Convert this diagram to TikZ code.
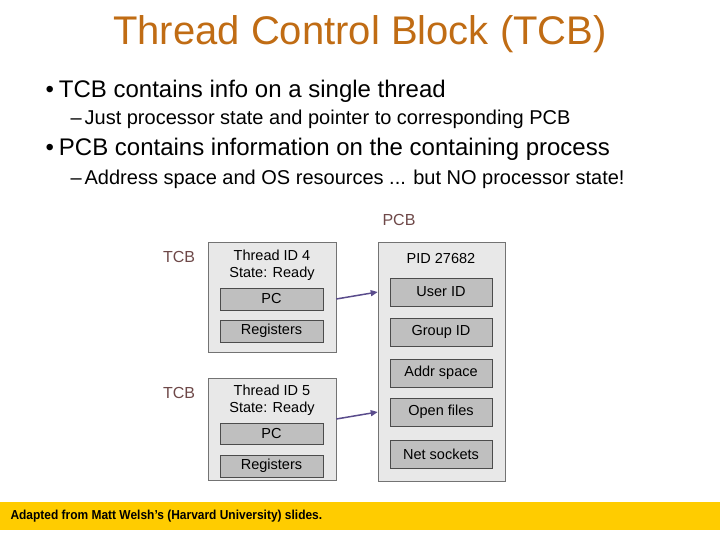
\documentclass[tikz,border=0pt]{standalone}
\usepackage{fontspec}
\setmainfont{Liberation Sans}
\usetikzlibrary{arrows.meta}
\definecolor{titleorange}{HTML}{C06C14}
\definecolor{labelbrown}{HTML}{6E4848}
\definecolor{ptrpurple}{HTML}{5A4C8C}
\definecolor{footyellow}{HTML}{FFCC00}
\newcommand{\fsz}[1]{\fontsize{#1}{1.2\dimexpr#1pt\relax}\selectfont}
\begin{document}
\begin{tikzpicture}[x=1pt, y=-1pt,
            outer/.style={draw=gray!90!black, fill=gray!18, line width=0.6pt, minimum width=128pt, inner sep=0pt},
            field/.style={draw=gray!60!black, fill=gray!50, line width=0.6pt, minimum width=103pt, minimum height=22pt, inner sep=0pt, font=\fsz{14.5}},
            blocklabel/.style={text=labelbrown, font=\fsz{16}},
            ptr/.style={draw=ptrpurple, line width=1.5pt, -{Triangle[length=7pt, width=6pt]}}
        ]
            \useasboundingbox (0,0) rectangle (720,540);

            \node[text=titleorange, font=\fsz{40}] (title) at (360,34) {Thread Control Block (TCB)};
            \node[anchor=west, font=\fsz{24}] (b1) at (42,91) {\textbullet\hspace{5pt}TCB contains info on a single thread};
            \node[anchor=west, font=\fsz{20}] (s1) at (67,119) {--\hspace{3pt}Just processor state and pointer to corresponding PCB};
            \node[anchor=west, font=\fsz{24}] (b2) at (42,149) {\textbullet\hspace{5pt}PCB contains information on the containing process};
            \node[anchor=west, font=\fsz{20}] (s2) at (67,179) {--\hspace{3pt}Address space and OS resources ... but NO processor state!};

            \node[blocklabel] (pcblabel) at (399,220) {PCB};
            \node[blocklabel] (tcblabela) at (179,257) {TCB};
            \node[blocklabel] (tcblabelb) at (179,393) {TCB};

            \node[outer, minimum height=110pt] (tcba) at (272,297) {};
            \node[align=center, font=\fsz{14.5}, inner sep=0pt] (ida) at (272,265) {Thread ID 4\\State: Ready};
            \node[field] (pca) at (271.5,299) {PC};
            \node[field] (rega) at (271.5,331) {Registers};

            \node[outer, minimum height=102pt] (tcbb) at (272,429) {};
            \node[align=center, font=\fsz{14.5}, inner sep=0pt] (idb) at (272,400) {Thread ID 5\\State: Ready};
            \node[field, minimum height=21pt] (pcb) at (271.5,434) {PC};
            \node[field] (regb) at (271.5,466) {Registers};

            \node[outer, minimum width=127pt, minimum height=239pt] (proc) at (441.5,361.5) {};
            \node[font=\fsz{14.5}] (pid) at (441,259) {PID 27682};
            \node[field, minimum width=102pt, minimum height=28pt] (user) at (441,292) {User ID};
            \node[field, minimum width=102pt, minimum height=28pt] (group) at (441,332) {Group ID};
            \node[field, minimum width=102pt, minimum height=28pt] (addr) at (441,373) {Addr space};
            \node[field, minimum width=102pt, minimum height=28pt] (files) at (441,412) {Open files};
            \node[field, minimum width=102pt, minimum height=28pt] (sock) at (441,454) {Net sockets};

            \draw[ptr] (tcba.east |- pca) -- (proc.west |- user);
            \draw[ptr] ([yshift=10pt]tcbb.east) -- (proc.west |- files);

            \fill[footyellow] (0,502) rectangle (720,530);
            \node[anchor=west, font=\fsz{13}\bfseries] (credit) at (7,516) {\scalebox{0.92}[1]{Adapted from Matt Welsh's (Harvard University) slides.}};
        \end{tikzpicture}
\end{document}
